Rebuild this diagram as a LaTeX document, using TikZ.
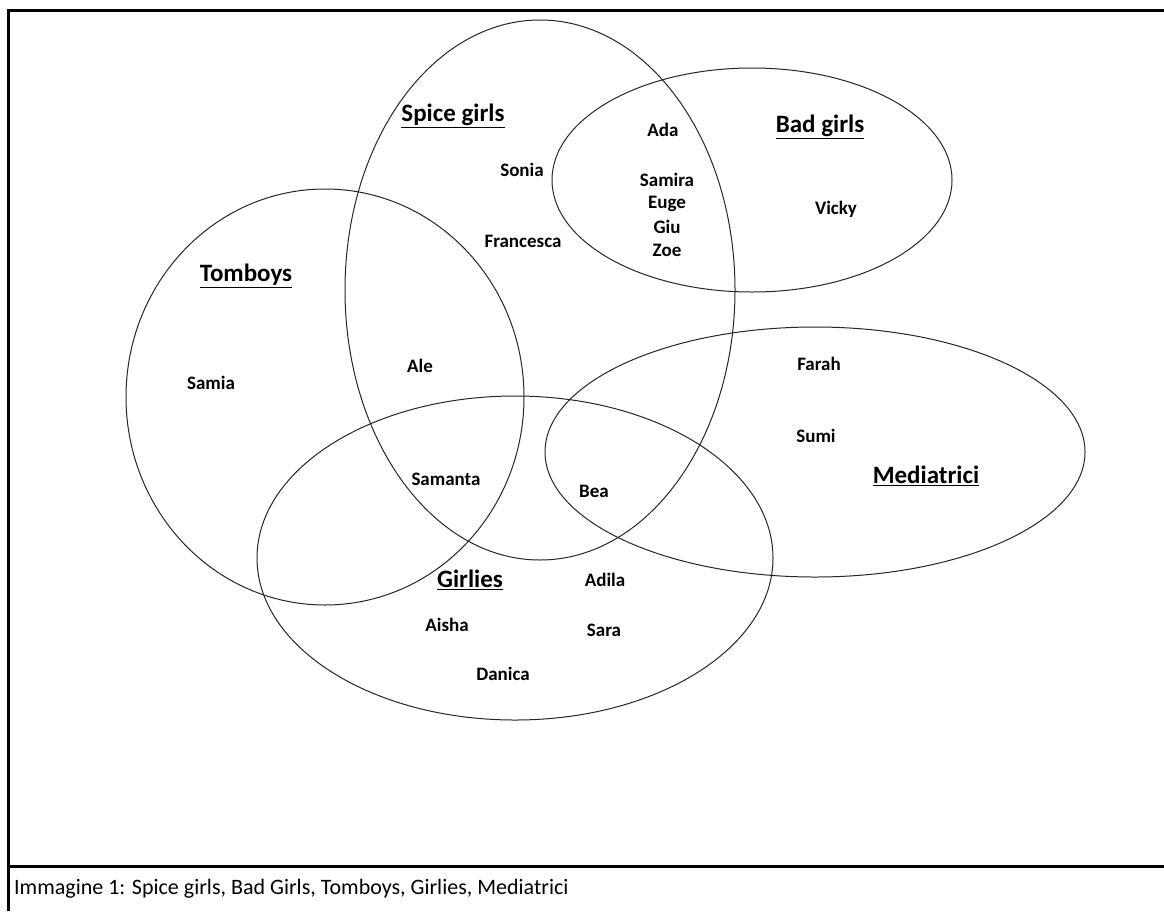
\documentclass[tikz,border=0pt]{standalone}
\usepackage{fontspec}
\setmainfont{Carlito}

\tikzset{
  set/.style={draw=black!85, line width=1pt},
  frame/.style={line width=3pt},
  title/.style={font=\fontsize{25}{27}\selectfont\bfseries},
  girl/.style={font=\fontsize{19}{21}\selectfont\bfseries, inner sep=1pt},
}

\begin{document}
\begin{tikzpicture}[x=1pt,y=-1pt]
\useasboundingbox (0,0) rectangle (1164,911);

% frame and caption
\draw[frame] (8,911) -- (8,10) -- (1164,10);
\draw[frame] (8,866) -- (1164,866);
\node (cap) [anchor=west, inner sep=0pt, font=\fontsize{22}{24}\selectfont] at (14,889) {Immagine 1: Spice girls, Bad Girls, Tomboys, Girlies, Mediatrici};

% the five groups
\draw[set] (540,290) ellipse [x radius=195pt, y radius=270pt];
\draw[set] (752,180) ellipse [x radius=200pt, y radius=112pt];
\draw[set] (325,397) ellipse [x radius=199pt, y radius=208pt];
\draw[set] (515,558) ellipse [x radius=258pt, y radius=162pt];
\draw[set] (815,452) ellipse [x radius=270pt, y radius=125pt];

% group names
\node (spice) [title] at (453,116) {\underline{Spice girls}};
\node (bad)   [title] at (820,127) {\underline{Bad girls}};
\node (tom)   [title] at (246,276) {\underline{Tomboys}};
\node (girly) [title] at (470,580) {\underline{Girlies}};
\node (med)   [title] at (926,476) {\underline{Mediatrici}};

% girls
\node (sonia) [girl] at (522,170) {Sonia};
\node (fran)  [girl] at (523,241) {Francesca};
\node (ada)   [girl] at (663,130) {Ada};
\foreach \g [count=\i from 0] in {Samira,Euge,Giu,Zoe}
  \node (bad\i) [girl] at (667,180+23.5*\i) {\g};
\node (vicky) [girl] at (836,209) {Vicky};
\node (ale)   [girl] at (420,366) {Ale};
\node (samia) [girl] at (211,383) {Samia};
\node (farah) [girl] at (819,364) {Farah};
\node (sumi)  [girl] at (816,436) {Sumi};
\node (saman) [girl] at (446,479) {Samanta};
\node (bea)   [girl] at (594,491) {Bea};
\node (adila) [girl] at (605,580) {Adila};
\node (aisha) [girl] at (447,625) {Aisha};
\node (sara)  [girl] at (604,630) {Sara};
\node (dani)  [girl] at (503,674) {Danica};

\end{tikzpicture}
\end{document}
